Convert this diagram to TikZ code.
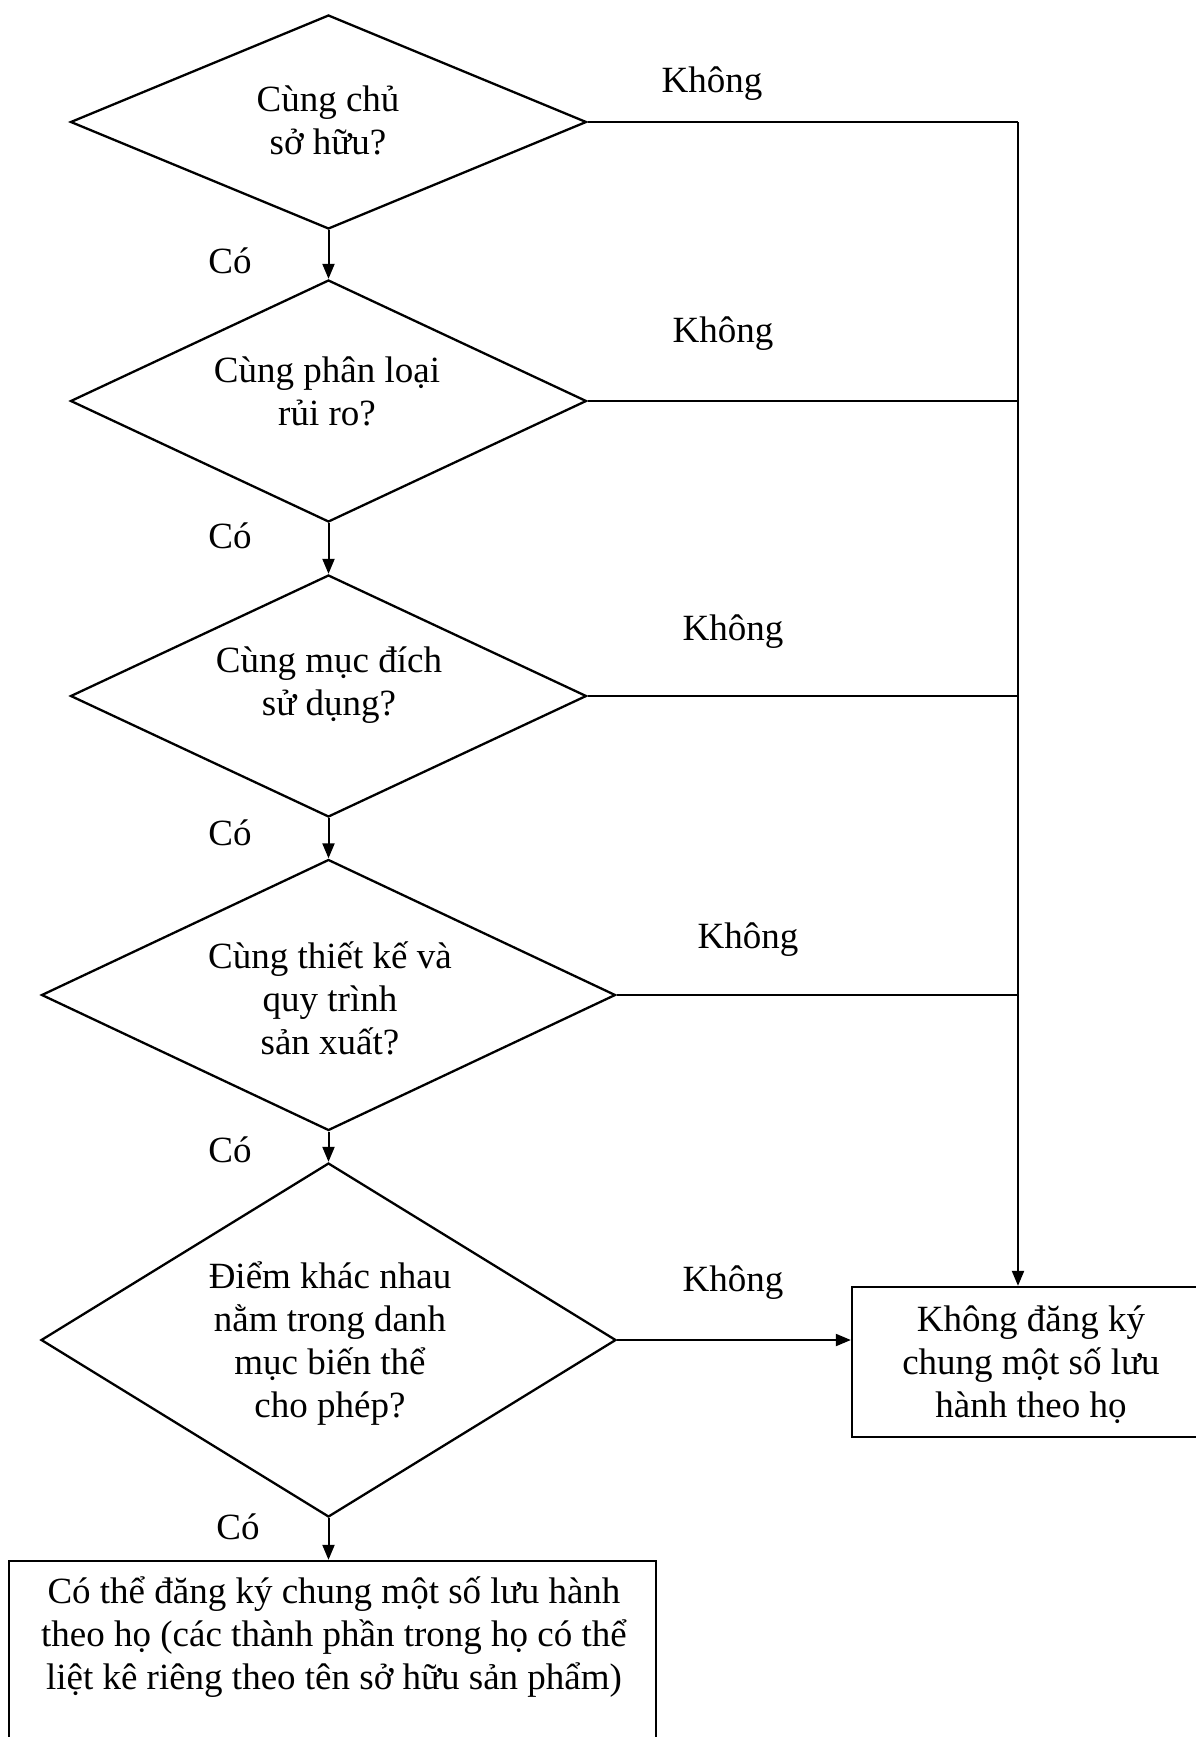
\documentclass[tikz,border=0pt]{standalone}
\usepackage{fontspec}
\setmainfont{Liberation Serif}
\usetikzlibrary{shapes.geometric,arrows.meta}
\begin{document}
\begin{tikzpicture}[x=1pt,y=-1pt,
  dia/.style={draw, diamond, inner sep=0pt, line width=2.3pt},
  lbl/.style={font=\fontsize{37}{43}\selectfont, align=center, inner sep=0pt},
  arr/.style={-{Triangle[length=15pt,width=12pt]}, line width=2pt},
  ln/.style={line width=2.3pt},
  boxst/.style={draw, rectangle, inner sep=0pt, line width=2.3pt}]
\useasboundingbox (0,0) rectangle (1195,1737);
% diamonds
\node[dia, minimum width=516pt, minimum height=214pt] (d1) at (328.5,122) {};
\node[dia, minimum width=516pt, minimum height=242pt] (d2) at (328.5,401) {};
\node[dia, minimum width=516pt, minimum height=242pt] (d3) at (328.5,696) {};
\node[dia, minimum width=574pt, minimum height=271pt] (d4) at (328.5,995) {};
\node[dia, minimum width=575pt, minimum height=354pt] (d5) at (328.5,1340) {};
% diamond texts
\node[lbl] (t1) at (328,120) {Cùng chủ\\sở hữu?};
\node[lbl] (t2) at (327,391) {Cùng phân loại\\rủi ro?};
\node[lbl] (t3) at (329,685) {Cùng mục đích\\sử dụng?};
\node[lbl] (t4) at (330,998) {Cùng thiết kế và\\quy trình\\sản xuất?};
\node[lbl] (t5) at (330,1344) {Điểm khác nhau\\nằm trong danh\\mục biến thể\\cho phép?};
% boxes
\node[boxst, minimum width=350pt, minimum height=150pt] (nobox) at (1027,1362) {};
\node[lbl] (nt) at (1031,1365) {Không đăng ký\\chung một số lưu\\hành theo họ};
\node[boxst, minimum width=647pt, minimum height=190pt] (yesbox) at (332.5,1656) {};
\node[lbl] (yt) at (334,1637) {Có thể đăng ký chung một số lưu hành\\theo họ (các thành phần trong họ có thể\\liệt kê riêng theo tên sở hữu sản phẩm)};
% junctions on the right vertical line
\coordinate (j1) at (1018,122);
\coordinate (j2) at (1018,401);
\coordinate (j3) at (1018,696);
\coordinate (j4) at (1018,995);
% connectors
\draw[ln] (d1.east) -- (j1);
\draw[ln] (d2.east) -- (j2);
\draw[ln] (d3.east) -- (j3);
\draw[ln] (d4.east) -- (j4);
\draw[arr] (j1) -- (j1 |- nobox.north);
\draw[arr] (d5.east) -- (nobox.west |- d5.east);
\draw[arr] (d1.south) -- (d2.north);
\draw[arr] (d2.south) -- (d3.north);
\draw[arr] (d3.south) -- (d4.north);
\draw[arr] (d4.south) -- (d5.north);
\draw[arr] (d5.south) -- (d5.south |- yesbox.north);
% labels
\node[lbl] (k1) at (712,84) {Không};
\node[lbl] (k2) at (723,334) {Không};
\node[lbl] (k3) at (733,632) {Không};
\node[lbl] (k4) at (748,940) {Không};
\node[lbl] (k5) at (733,1283) {Không};
\node[lbl] (c1) at (230,261) {Có};
\node[lbl] (c2) at (230,536) {Có};
\node[lbl] (c3) at (230,833) {Có};
\node[lbl] (c4) at (230,1150) {Có};
\node[lbl] (c5) at (238,1527) {Có};
\end{tikzpicture}
\end{document}
